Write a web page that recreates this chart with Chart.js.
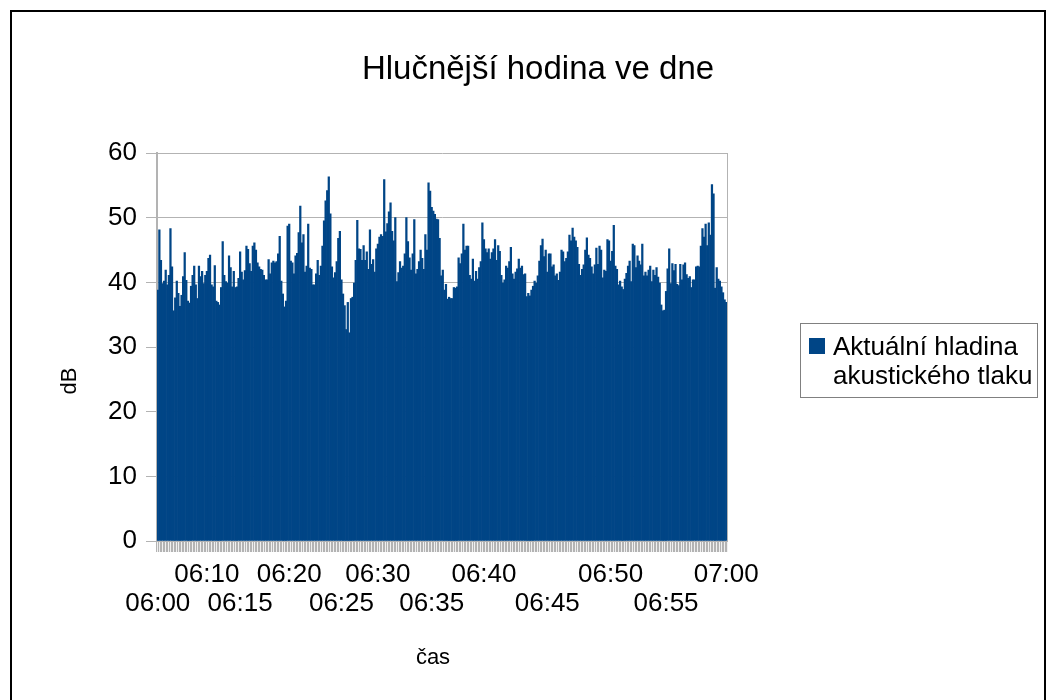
<!DOCTYPE html>
<html>
<head>
<meta charset="utf-8">
<title>Hlučnější hodina ve dne</title>
<script src="https://cdn.jsdelivr.net/npm/chart.js"></script>
<style>
  body { margin: 0; background: #fff; font-family: "Liberation Sans", Arial, sans-serif; }
  #wrap { position: relative; width: 1047px; height: 700px; overflow: hidden; }
  #frame { position: absolute; left: 10px; top: 10px; width: 1036px; height: 720px; border: 2px solid #000; box-sizing: border-box; }
  canvas { position: absolute; left: 0; top: 0; }
  .txt { position: absolute; white-space: nowrap; color: #000; }
  #title { left: 0; width: 1076px; text-align: center; top: 51px; font-size: 33px; line-height: 33px; }
  #ytitle { left: 69px; top: 381px; font-size: 22px; transform: translate(-50%, -50%) rotate(-90deg); }
  #xtitle { left: 433px; top: 657px; font-size: 22px; transform: translate(-50%, -50%); }
  #legend { position: absolute; left: 800px; top: 323px; width: 238px; height: 75px; border: 1px solid #808080; box-sizing: border-box; }
  #legend .box { position: absolute; left: 8px; top: 14px; width: 16px; height: 16px; }
  #legend .lbl { position: absolute; left: 32px; top: 8px; width: 200px; font-size: 26px; line-height: 29px; white-space: normal; }
</style>
</head>
<body>
<div id="wrap">
  <canvas id="noiseChart" width="1047" height="700"></canvas>
  <div id="frame"></div>
  <div class="txt" id="title">Hlučnější hodina ve dne</div>
  <div class="txt" id="ytitle">dB</div>
  <div class="txt" id="xtitle">čas</div>
  <div id="legend"><div class="box"></div><div class="lbl"></div></div>
</div>
<script>
const chartTitle = 'Hlučnější hodina ve dne';
const seriesLabel = 'Aktuální hladina akustického tlaku';
const seriesColor = '#004586';

// sound level readings, one bar each (06:00 - 07:00)
const levels = [
  38.8, 48.1, 43.4, 39.8, 40.2, 41.9, 39.6, 41.1, 48.3, 42.4,
  35.6, 37.6, 40.2, 38.3, 36.3, 38.0, 40.9, 44.6, 40.3, 37.1,
  36.8, 39.4, 41.1, 42.5, 39.6, 37.5, 42.5, 40.9, 41.7, 39.8,
  41.1, 41.7, 43.7, 44.2, 39.6, 39.3, 42.6, 37.1, 36.9, 36.5,
  39.2, 46.3, 41.1, 40.1, 39.9, 44.1, 42.3, 39.3, 41.7, 39.2,
  39.3, 40.6, 44.7, 41.6, 40.4, 41.8, 45.6, 45.1, 42.9, 41.7,
  45.6, 46.1, 45.0, 43.0, 42.4, 42.0, 41.9, 41.1, 40.4, 40.4,
  43.5, 41.3, 43.0, 43.3, 43.0, 43.2, 44.4, 47.1, 40.2, 38.2,
  36.2, 37.1, 48.7, 49.0, 43.3, 43.0, 41.3, 44.1, 44.5, 47.7,
  51.8, 46.1, 47.4, 41.6, 42.5, 49.0, 42.2, 42.0, 39.6, 39.6,
  41.3, 43.4, 41.1, 42.5, 45.6, 49.5, 52.6, 54.2, 56.3, 50.6,
  42.4, 40.7, 41.5, 43.2, 46.8, 47.9, 40.4, 38.2, 36.4, 32.7,
  36.9, 32.2, 37.5, 37.7, 39.9, 43.4, 49.6, 45.2, 45.1, 43.4,
  45.7, 43.4, 44.7, 42.0, 48.1, 42.8, 43.5, 41.6, 45.2, 45.9,
  47.0, 47.4, 47.1, 55.9, 47.8, 49.1, 50.9, 52.3, 47.9, 46.4,
  50.0, 40.1, 41.5, 43.2, 42.2, 42.5, 44.4, 50.0, 46.3, 43.8,
  41.9, 44.4, 49.7, 41.3, 42.0, 43.2, 45.0, 43.7, 42.0, 47.4,
  45.0, 55.4, 54.1, 51.6, 51.0, 50.5, 49.8, 49.7, 46.8, 41.0,
  41.9, 38.8, 39.7, 37.4, 37.7, 37.5, 37.5, 39.2, 39.1, 39.3,
  43.8, 42.9, 44.4, 49.0, 45.0, 45.6, 45.6, 41.1, 40.5, 43.6,
  40.2, 41.7, 40.5, 42.3, 43.2, 49.2, 46.6, 45.2, 44.6, 45.2,
  43.6, 44.6, 45.2, 46.6, 43.4, 45.7, 44.8, 41.1, 39.9, 40.4,
  42.5, 42.2, 43.2, 45.4, 41.3, 40.5, 41.6, 42.1, 43.6, 42.2,
  42.5, 41.2, 41.3, 37.8, 38.3, 37.9, 38.8, 39.4, 40.2, 39.9,
  41.0, 43.3, 45.7, 46.7, 44.0, 45.0, 41.6, 44.4, 44.4, 42.4,
  42.7, 41.0, 41.3, 40.3, 41.6, 45.0, 44.7, 43.2, 43.7, 44.7,
  47.3, 46.4, 48.4, 47.0, 46.4, 45.4, 42.8, 41.1, 42.0, 42.7,
  45.0, 46.9, 44.2, 43.7, 42.4, 41.3, 42.7, 45.3, 42.8, 45.6,
  45.0, 40.7, 41.9, 41.7, 46.6, 46.4, 43.3, 44.8, 48.8, 42.5,
  42.0, 39.6, 40.2, 39.3, 38.9, 40.5, 41.4, 42.5, 43.3, 40.1,
  45.9, 45.7, 42.3, 44.1, 43.3, 42.7, 45.9, 41.0, 41.6, 41.0,
  41.9, 42.5, 40.1, 41.9, 41.1, 42.3, 40.8, 39.9, 36.5, 35.6,
  35.7, 38.6, 42.1, 45.2, 39.8, 42.9, 41.8, 42.8, 39.7, 39.5,
  42.8, 40.4, 42.7, 43.0, 41.2, 40.6, 40.9, 39.2, 40.4, 40.4,
  42.4, 42.5, 42.4, 45.6, 48.3, 47.0, 49.0, 45.7, 49.2, 47.3,
  55.1, 53.7, 39.1, 42.3, 40.5, 40.2, 39.3, 38.4, 37.3, 36.9
];
const categories = levels.map((_, i) => i + 1);

// time labels shown on the x axis and the sample they sit under
const timeLabels = ['06:00', '06:10', '06:15', '06:20', '06:25', '06:30', '06:35', '06:40', '06:45', '06:50', '06:55', '07:00'];
const timeLabelAt = [0, 31, 52, 83, 116, 139, 173, 206, 246, 286, 321, 359];

const yTicks = { min: 0, max: 60, step: 10 };

const fontFamily = '"Liberation Sans", Arial, sans-serif';
const gridGray = '#b3b3b3';

document.getElementById('title').textContent = chartTitle;
document.querySelector('#legend .box').style.background = seriesColor;
document.querySelector('#legend .lbl').textContent = seriesLabel;

const ctx = document.getElementById('noiseChart').getContext('2d');
window.noiseChart = new Chart(ctx, {
  type: 'bar',
  data: {
    labels: categories,
    datasets: [{
      label: seriesLabel,
      data: levels,
      backgroundColor: seriesColor,
      borderWidth: 0,
      barPercentage: 1.0,
      categoryPercentage: 1.0
    }]
  },
  options: {
    responsive: false,
    animation: false,
    layout: { padding: { top: 153, left: 0, right: 0, bottom: 0 } },
    plugins: {
      legend: { display: false },
      tooltip: { enabled: false }
    },
    scales: {
      x: {
        grid: { display: true, drawOnChartArea: false, drawTicks: true, tickLength: 11, color: gridGray, lineWidth: 1.2, offset: true },
        border: { display: true, color: gridGray },
        ticks: {
          autoSkip: false, maxRotation: 0, minRotation: 0, padding: 8, color: '#000',
          font: { family: fontFamily, size: 26, lineHeight: 1.12 },
          callback: function (value, index) {
            const k = timeLabelAt.indexOf(index);
            if (k < 0) return '';
            return k % 2 ? [timeLabels[k], ''] : ['', timeLabels[k]];
          }
        },
        afterFit: function (axis) { axis.height = 159; }
      },
      y: {
        min: yTicks.min, max: yTicks.max,
        ticks: { stepSize: yTicks.step, padding: 9, color: '#000', font: { family: fontFamily, size: 26 } },
        grid: { color: gridGray, tickLength: 11 },
        border: { color: gridGray, width: 2 },
        afterFit: function (axis) { axis.width = 157; }
      },
      y2: {
        position: 'right', min: yTicks.min, max: yTicks.max,
        ticks: { display: false },
        grid: { display: false },
        border: { color: gridGray, width: 1 },
        afterFit: function (axis) { axis.width = 320; }
      }
    }
  }
});
</script>
</body>
</html>
